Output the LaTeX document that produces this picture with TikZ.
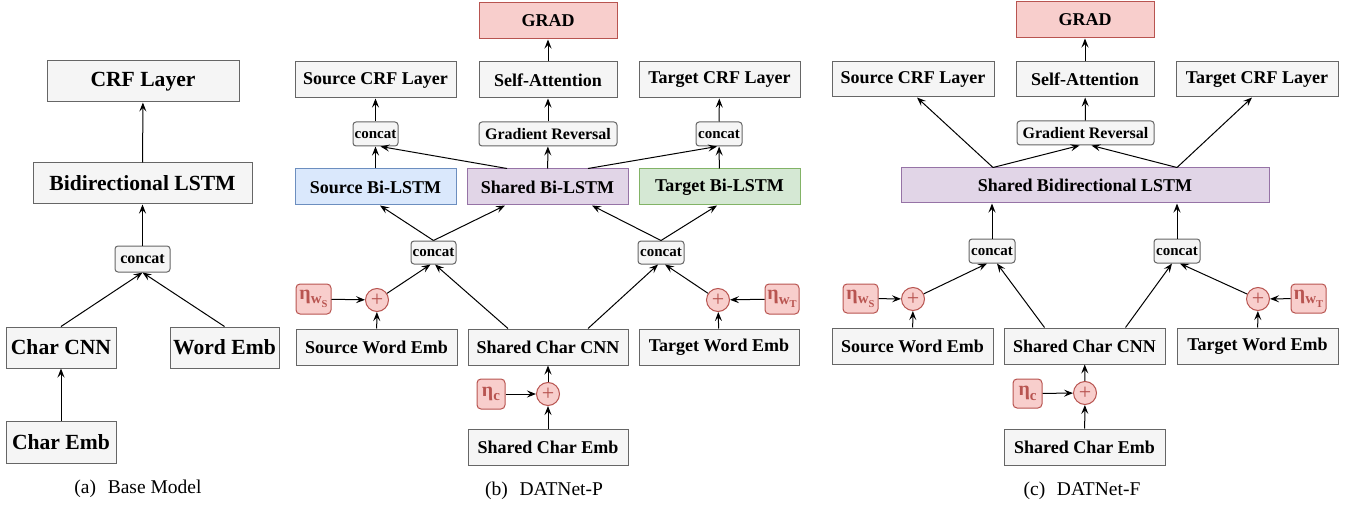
\documentclass[tikz,border=0pt]{standalone}
\usepackage{fontspec}
\setmainfont{Liberation Serif}
\usetikzlibrary{arrows.meta}
\usetikzlibrary{calc}
\usepackage{xcolor}

\definecolor{boxfill}{HTML}{F5F5F5}
\definecolor{boxline}{HTML}{666666}
\definecolor{noisefill}{HTML}{F8CECC}
\definecolor{noiseline}{HTML}{B85450}
\definecolor{srcfill}{HTML}{DAE8FC}
\definecolor{srcline}{HTML}{6C8EBF}
\definecolor{shfill}{HTML}{E1D5E7}
\definecolor{shline}{HTML}{9673A6}
\definecolor{tgtfill}{HTML}{D5E8D4}
\definecolor{tgtline}{HTML}{82B366}

\newcommand{\etaw}[1]{η\raisebox{-0.22em}{\fontsize{15}{15}\selectfont w\raisebox{-0.25em}{\fontsize{10.5}{10.5}\selectfont #1}}}
\newcommand{\etac}{η\raisebox{-0.22em}{\fontsize{15}{15}\selectfont c}}

\tikzset{
    >={Stealth[length=9pt,width=7pt,inset=3.5pt]},
    blk/.style={draw=boxline, fill=boxfill, line width=1pt, inner sep=0pt,
        font=\bfseries\fontsize{18}{20}\selectfont},
    bigblk/.style={blk, font=\bfseries\fontsize{21.6}{24}\selectfont},
    cat/.style={blk, rounded corners=3pt, font=\bfseries\fontsize{15}{16}\selectfont},
    grblk/.style={cat, font=\bfseries\fontsize{16}{18}\selectfont},
    gradblk/.style={blk, draw=noiseline, fill=noisefill},
    noise/.style={draw=noiseline, fill=noisefill, text=noiseline, rounded corners=4pt,
        line width=1pt, inner sep=0pt, font=\bfseries\fontsize{20}{20}\selectfont},
    addop/.style={circle, draw=noiseline, fill=noisefill, text=noiseline, line width=1pt,
        minimum size=23pt, inner sep=0pt, font=\fontsize{22}{22}\selectfont},
    flow/.style={->, line width=1pt},
    caption/.style={font=\fontsize{19.5}{22}\selectfont}
}

\begin{document}
\begin{tikzpicture}[x=1pt, y=-1pt]
        \useasboundingbox (0,0) rectangle (1369,508);

        % (a) Base Model
        \node[bigblk, minimum width=192pt, minimum height=41pt] (aCRF) at (143,81.5) {CRF Layer};
        \node[bigblk, minimum width=219pt, minimum height=41pt] (aLSTM) at (142.5,183.5) {Bidirectional LSTM};
        \node[cat, minimum width=55pt, minimum height=26pt, font=\bfseries\fontsize{16}{18}\selectfont] (aCat) at (142.5,259) {concat};
        \node[bigblk, minimum width=110pt, minimum height=41pt] (aCNN) at (61,347.5) {Char CNN};
        \node[bigblk, minimum width=109pt, minimum height=41pt] (aWord) at (224.5,347.5) {Word Emb};
        \node[bigblk, minimum width=110pt, minimum height=42pt] (aChar) at (61,442) {Char Emb};
        \node[caption] (aCap) at (138,489) {(a)\hspace{0.6em}Base Model};

        \draw[flow] (aChar) -- (aCNN);
        \draw[flow] (aCNN.north) -- (aCat.south);
        \draw[flow] (aWord.north) -- (aCat.south);
        \draw[flow] (aCat) -- (aLSTM);
        \draw[flow] (aLSTM) -- (aCRF);

        % (b) DATNet-P
        \node[gradblk, minimum width=138pt, minimum height=36pt] (bGRAD) at (548,21) {GRAD};
        \node[blk, minimum width=161pt, minimum height=36pt] (bSrcCRF) at (375.5,80) {Source CRF Layer};
        \node[blk, minimum width=138pt, minimum height=36pt] (bSelf) at (548,80) {Self-Attention};
        \node[blk, minimum width=161pt, minimum height=36pt] (bTgtCRF) at (719.5,80) {Target CRF Layer};
        \node[cat, minimum width=45pt, minimum height=24pt] (bCatS) at (375.5,134) {concat};
        \node[grblk, minimum width=138pt, minimum height=24pt] (bGR) at (548,134) {Gradient Reversal};
        \node[cat, minimum width=46pt, minimum height=24pt] (bCatT) at (719,134) {concat};
        \node[blk, draw=srcline, fill=srcfill, minimum width=161pt, minimum height=36pt] (bSrcLSTM) at (375.5,187) {Source Bi-LSTM};
        \node[blk, draw=shline, fill=shfill, minimum width=161pt, minimum height=36pt] (bShLSTM) at (547.5,187) {Shared Bi-LSTM};
        \node[blk, draw=tgtline, fill=tgtfill, minimum width=161pt, minimum height=36pt] (bTgtLSTM) at (719.5,187) {Target Bi-LSTM};
        \node[cat, minimum width=45pt, minimum height=23pt] (bCatL) at (433.5,252.5) {concat};
        \node[cat, minimum width=46pt, minimum height=23pt] (bCatR) at (661,252.5) {concat};
        \node[noise, minimum width=35pt, minimum height=30pt] (bEtaS) at (313.5,299) {\etaw{S}};
        \node[addop] (bPlusS) at (377,300) {+};
        \node[addop] (bPlusT) at (718,300) {+};
        \node[noise, minimum width=34pt, minimum height=30pt] (bEtaT) at (782,299) {\etaw{T}};
        \node[blk, minimum width=161pt, minimum height=36pt] (bSrcWord) at (376.5,347) {Source Word Emb};
        \node[blk, minimum width=160pt, minimum height=36pt] (bShCNN) at (548,347) {Shared Char CNN};
        \node[blk, minimum width=160pt, minimum height=36pt] (bTgtWord) at (719,347) {Target Word Emb};
        \node[noise, minimum width=28pt, minimum height=30pt] (bEtaC) at (491,394) {\etac};
        \node[addop] (bPlusC) at (548,394) {+};
        \node[blk, minimum width=160pt, minimum height=36pt] (bShChar) at (548,447) {Shared Char Emb};
        \node[caption] (bCap) at (544,491) {(b)\hspace{0.6em}DATNet-P};

        \draw[flow] (bSelf) -- (bGRAD);
        \draw[flow] (bCatS) -- (bSrcCRF);
        \draw[flow] (bGR) -- (bSelf);
        \draw[flow] (bCatT) -- (bTgtCRF);
        \draw[flow] (bSrcLSTM) -- (bCatS);
        \draw[flow] ([xshift=-40.5pt]bShLSTM.north) -- ([xshift=5pt]bCatS.south);
        \draw[flow] (bShLSTM) -- (bGR);
        \draw[flow] ([xshift=40.5pt]bShLSTM.north) -- ([xshift=-2pt]bCatT.south);
        \draw[flow] (bTgtLSTM) -- (bCatT);
        \draw[flow] (bCatL.north) -- ([xshift=4.5pt]bSrcLSTM.south);
        \draw[flow] (bCatL.north) -- ([xshift=-42.5pt]bShLSTM.south);
        \draw[flow] (bCatR.north) -- ([xshift=44.5pt]bShLSTM.south);
        \draw[flow] (bCatR.north) -- ([xshift=-2.5pt]bTgtLSTM.south);
        \draw[flow] (bPlusS) -- ([xshift=-3pt]bCatL.south);
        \draw[flow] ([xshift=-40pt]bShCNN.north) -- ([xshift=1.5pt]bCatL.south);
        \draw[flow] ([xshift=40pt]bShCNN.north) -- ([xshift=-3pt]bCatR.south);
        \draw[flow] (bPlusT) -- ([xshift=4pt]bCatR.south);
        \draw[flow] (bEtaS) -- (bPlusS);
        \draw[flow] (bSrcWord) -- (bPlusS);
        \draw[flow] (bEtaT) -- (bPlusT);
        \draw[flow] (bTgtWord) -- (bPlusT);
        \draw[flow] (bEtaC) -- (bPlusC);
        \draw[flow] (bShChar) -- (bPlusC);
        \draw[flow] (bPlusC) -- (bShCNN);

        % (c) DATNet-F
        \node[gradblk, minimum width=138pt, minimum height=36pt] (cGRAD) at (1085,20) {GRAD};
        \node[blk, minimum width=162pt, minimum height=35pt] (cSrcCRF) at (913,79.5) {Source CRF Layer};
        \node[blk, minimum width=138pt, minimum height=35pt] (cSelf) at (1085,79.5) {Self-Attention};
        \node[blk, minimum width=162pt, minimum height=35pt] (cTgtCRF) at (1257,79.5) {Target CRF Layer};
        \node[grblk, minimum width=137pt, minimum height=24pt] (cGR) at (1085.5,133) {Gradient Reversal};
        \node[blk, draw=shline, fill=shfill, minimum width=368pt, minimum height=35pt] (cShLSTM) at (1085,185.5) {Shared Bidirectional LSTM};
        \node[cat, minimum width=46pt, minimum height=24pt] (cCatL) at (992,251) {concat};
        \node[cat, minimum width=46pt, minimum height=24pt] (cCatR) at (1177,251) {concat};
        \node[noise, minimum width=35pt, minimum height=29pt] (cEtaS) at (860.5,298.5) {\etaw{S}};
        \node[addop] (cPlusS) at (913,299) {+};
        \node[addop] (cPlusT) at (1258,299) {+};
        \node[noise, minimum width=35pt, minimum height=29pt] (cEtaT) at (1308.5,298.5) {\etaw{T}};
        \node[blk, minimum width=161pt, minimum height=36pt] (cSrcWord) at (912.5,346) {Source Word Emb};
        \node[blk, minimum width=161pt, minimum height=36pt] (cShCNN) at (1084.5,346) {Shared Char CNN};
        \node[blk, minimum width=161pt, minimum height=36pt] (cTgtWord) at (1257.5,346) {Target Word Emb};
        \node[noise, minimum width=29pt, minimum height=29pt] (cEtaC) at (1027.5,393.5) {\etac};
        \node[addop] (cPlusC) at (1085,393) {+};
        \node[blk, minimum width=161pt, minimum height=36pt] (cShChar) at (1084.5,447) {Shared Char Emb};
        \node[caption] (cCap) at (1082,491) {(c)\hspace{0.6em}DATNet-F};

        \draw[flow] (cSelf) -- (cGRAD);
        \draw[flow] (cGR) -- (cSelf);
        \draw[flow] ([xshift=-92pt]cShLSTM.north) -- ([xshift=4pt]cSrcCRF.south);
        \draw[flow] ([xshift=-92pt]cShLSTM.north) -- ([xshift=-6pt]cGR.south);
        \draw[flow] ([xshift=92pt]cShLSTM.north) -- ([xshift=6pt]cGR.south);
        \draw[flow] ([xshift=92pt]cShLSTM.north) -- ([xshift=-5pt]cTgtCRF.south);
        \draw[flow] (cCatL.north) -- (cCatL.north |- cShLSTM.south);
        \draw[flow] (cCatR.north) -- (cCatR.north |- cShLSTM.south);
        \draw[flow] (cPlusS) -- ([xshift=-5pt]cCatL.south);
        \draw[flow] ([xshift=-40pt]cShCNN.north) -- ([xshift=5pt]cCatL.south);
        \draw[flow] ([xshift=41pt]cShCNN.north) -- ([xshift=-5pt]cCatR.south);
        \draw[flow] (cPlusT) -- ([xshift=3pt]cCatR.south);
        \draw[flow] (cEtaS) -- (cPlusS);
        \draw[flow] (cSrcWord) -- (cPlusS);
        \draw[flow] (cEtaT) -- (cPlusT);
        \draw[flow] (cTgtWord) -- (cPlusT);
        \draw[flow] (cEtaC) -- (cPlusC);
        \draw[flow] (cShChar) -- (cPlusC);
        \draw[flow] (cPlusC) -- (cShCNN);
    \end{tikzpicture}
\end{document}
